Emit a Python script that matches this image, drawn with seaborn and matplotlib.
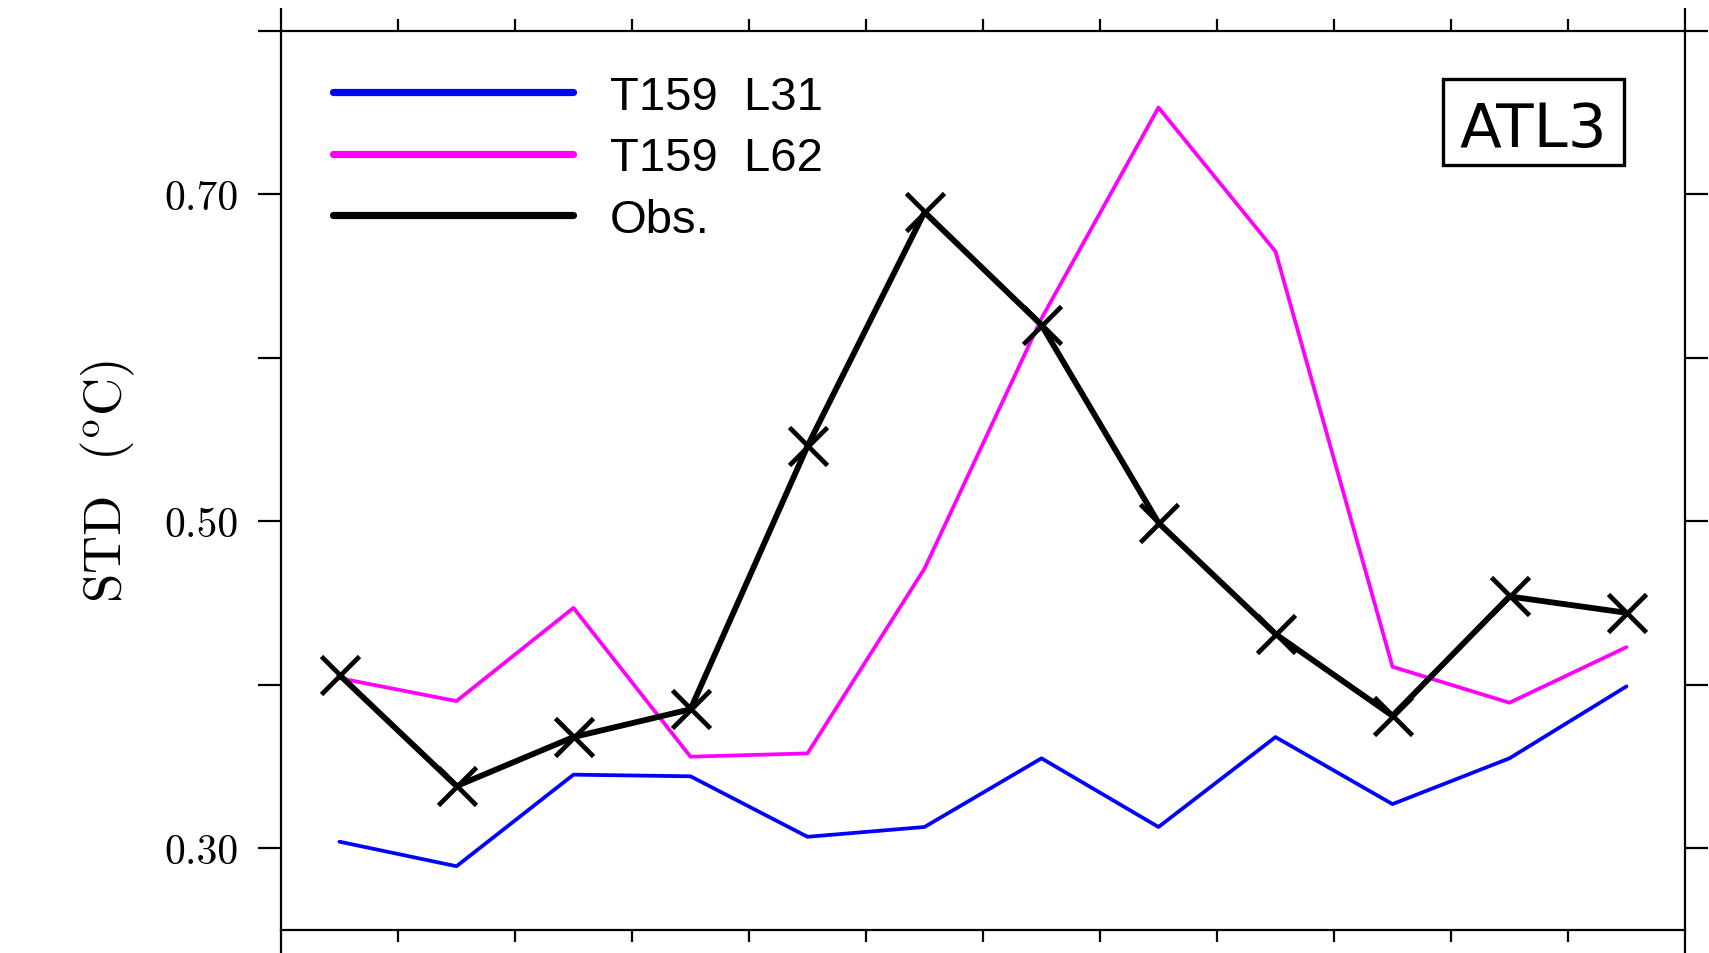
import matplotlib
matplotlib.use("Agg")
import matplotlib.pyplot as plt
from matplotlib.lines import Line2D
from matplotlib.patches import Rectangle
import seaborn as sns

# monthly SST standard deviation, ATL3 box
months = [1, 2, 3, 4, 5, 6, 7, 8, 9, 10, 11, 12]
t159_l31 = [0.304, 0.289, 0.345, 0.344, 0.307, 0.313, 0.355, 0.313, 0.368, 0.327, 0.355, 0.399]
t159_l62 = [0.404, 0.390, 0.447, 0.356, 0.358, 0.471, 0.624, 0.753, 0.665, 0.411, 0.389, 0.423]
obs = [0.406, 0.338, 0.368, 0.385, 0.546, 0.689, 0.620, 0.499, 0.431, 0.381, 0.454, 0.444]

series_labels = ["T159  L31", "T159  L62", "Obs."]
series_colors = ["#0000ff", "#ff00ff", "#000000"]
ytick_vals = [0.3, 0.4, 0.5, 0.6, 0.7, 0.8]
ytick_text = ["0.30", "", "0.50", "", "0.70", ""]
region = "ATL3"

sns.set_style("white")
plt.rcParams.update({
    "mathtext.fontset": "cm",
    "text.color": "black",
    "axes.labelcolor": "black",
    "xtick.color": "black",
    "ytick.color": "black",
})

W, H = 1709, 954
fig = plt.figure(figsize=(W / 100, H / 100), dpi=100)
ax = fig.add_axes([281 / W, 1 - 931 / H, (1685 - 281) / W, (931 - 31.7) / H])

sns.lineplot(x=months, y=t159_l31, ax=ax, color=series_colors[0], lw=2.7)
sns.lineplot(x=months, y=t159_l62, ax=ax, color=series_colors[1], lw=2.7)
sns.lineplot(x=months, y=obs, ax=ax, color=series_colors[2], lw=4.2,
             marker="x", markersize=27, markeredgewidth=3.4, markeredgecolor="k")

ax.set_xlim(0.5, 12.5)
ax.set_ylim(0.25, 0.80)

# x axis: long ticks at the ends, short ticks between months
ax.set_xticks([0.5, 12.5])
ax.set_xticks([m + 0.5 for m in months[:-1]], minor=True)
ax.set_xticklabels([])
ax.tick_params(axis="x", which="major", direction="out", length=16.5, width=1.6,
               top=True, bottom=True, labelbottom=False)
ax.tick_params(axis="x", which="minor", direction="out", length=8.6, width=1.6,
               top=True, bottom=True)

ax.set_yticks(ytick_vals)
ax.set_yticklabels(ytick_text, fontfamily="cmr10", fontsize=30)
ax.tick_params(axis="y", which="major", direction="out", length=16.5, width=1.6,
               left=True, right=True, pad=14)

for sp in ax.spines.values():
    sp.set_visible(True)
    sp.set_linewidth(1.6)
    sp.set_color("k")

ax.set_ylabel(r"STD  ($^{\mathrm{o}}$C)", fontfamily="cmr10", fontsize=38, labelpad=20)

handles = [Line2D([], [], color=c, lw=5.2) for c in series_colors]
leg = ax.legend(handles, series_labels, loc="upper left",
                bbox_to_anchor=(333 / W, 1 - 76 / H), bbox_transform=fig.transFigure,
                frameon=False, borderpad=0, borderaxespad=0,
                handlelength=5.08, handletextpad=0.78, labelspacing=0.37,
                prop={"family": "Liberation Sans", "size": 34})
for t in leg.get_texts():
    t.set_color("black")

fig.patches.append(Rectangle((1442.7 / W, 1 - 165.7 / H), 181.6 / W, 85.7 / H,
                             transform=fig.transFigure, fill=False, lw=2.4,
                             edgecolor="k"))
fig.text(1533.5 / W, 1 - 146.7 / H, region, ha="center", va="baseline",
         fontsize=44, family="DejaVu Sans", color="black")

fig.savefig("out.png", dpi=100, facecolor="white")
